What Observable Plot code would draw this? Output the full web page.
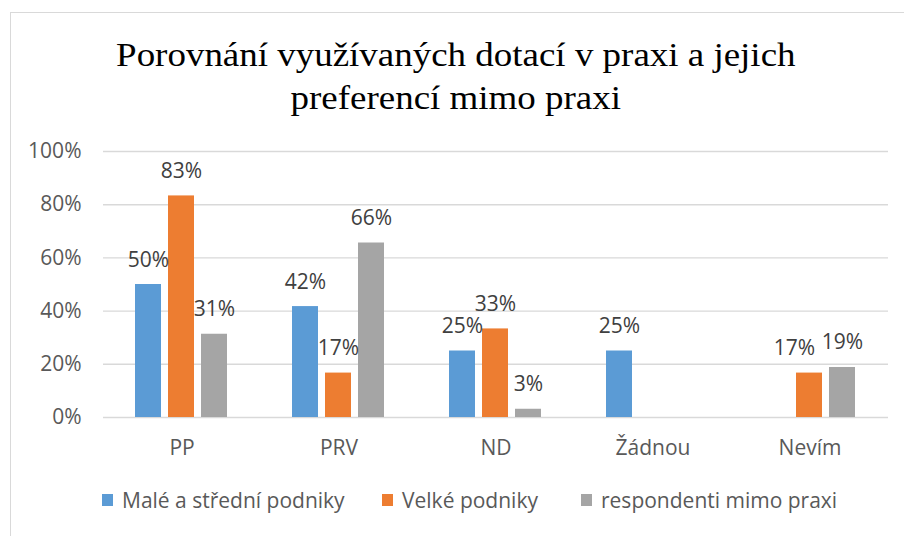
<!DOCTYPE html>
<html><head><meta charset="utf-8">
<script src="https://cdn.jsdelivr.net/npm/d3@7"></script>
<script src="https://cdn.jsdelivr.net/npm/@observablehq/plot@0.6"></script>
<style>
body{margin:0;background:#fff;}
#frame{position:relative;width:904px;height:536px;overflow:hidden;font-family:"Open Sans",sans-serif;background:#fff;}
#border{position:absolute;left:10px;top:12px;width:900px;height:600px;border:1.5px solid #d9d9d9;box-sizing:border-box;}
#title{position:absolute;left:10px;width:894px;top:34px;text-align:center;font-family:"Liberation Serif","Times New Roman",serif;font-size:33px;line-height:43px;color:#000;transform:scaleX(1.12);transform-origin:457px 0;}
#chart{position:absolute;left:0;top:130px;}
.lg{position:absolute;top:486px;font-size:21px;color:#595959;white-space:nowrap;line-height:28px;}
.sw{position:absolute;left:0;top:8px;width:11px;height:12px;}
.lt{position:absolute;left:20px;top:0;}
</style></head>
<body>
<div id="frame">
  <div id="border"></div>
  <div id="title">Porovnání využívaných dotací v praxi a jejich<br>preferencí mimo praxi</div>
  <div id="chart"></div>
  <div id="legend"></div>
</div>
<script>
const categories = ["PP", "PRV", "ND", "Žádnou", "Nevím"];
const series = ["Malé a střední podniky", "Velké podniky", "respondenti mimo praxi"];
const smallMedium = [50, 41.7, 25, 25, null];
const large = [83.3, 16.7, 33.3, null, 16.7];
const outside = [31.3, 65.6, 3.1, null, 18.8];
const colors = ["#5B9BD5", "#ED7D31", "#A5A5A5"];
const yTicks = [0, 20, 40, 60, 80, 100];

const seriesValues = [smallMedium, large, outside];
const data = [];
categories.forEach((c, i) => {
  series.forEach((s, j) => {
    const v = seriesValues[j][i];
    if (v != null) data.push({category: c, series: s, value: v});
  });
});
// the one label that the reference nudges left to avoid its neighbour
const nudged = d => d.category === "Nevím" && d.series === series[1];

const labelOpts = {fx: "category", x: "series", y: "value", text: d => Math.round(d.value) + "%", dy: -18, lineAnchor: "bottom", fill: "#404040", fontSize: 21};

const chart = Plot.plot({
  width: 904,
  height: 340,
  marginTop: 21,
  marginBottom: 53,
  marginLeft: 103,
  marginRight: 16,
  style: {fontFamily: "'Open Sans', sans-serif", fontSize: "21px", color: "#595959", background: "transparent"},
  fx: {domain: categories, paddingInner: 0, paddingOuter: 0, label: null},
  x: {domain: series, paddingInner: 0.2, paddingOuter: 0.91, axis: null},
  y: {domain: [0, 100], label: null},
  color: {domain: series, range: colors},
  marks: [
    Plot.gridY(yTicks, {stroke: "#d9d9d9", strokeOpacity: 1, strokeWidth: 1.4}),
    Plot.axisY(yTicks, {tickSize: 0, tickPadding: 22, tickFormat: d => d + "%", label: null, fill: "#595959"}),
    Plot.axisFx({anchor: "bottom", tickSize: 0, tickPadding: 23, label: null, fill: "#595959"}),
    Plot.barY(data, {fx: "category", x: "series", y: "value", fill: "series"}),
    Plot.text(data.filter(d => !nudged(d)), labelOpts),
    Plot.text(data.filter(nudged), {...labelOpts, dx: -15})
  ]
});
document.getElementById("chart").appendChild(chart);

const legendX = [102, 382, 581];
const legend = document.getElementById("legend");
series.forEach((s, j) => {
  const el = document.createElement("div");
  el.className = "lg";
  el.style.left = legendX[j] + "px";
  el.innerHTML = `<span class="sw" style="background:${colors[j]}"></span><span class="lt">${s}</span>`;
  legend.appendChild(el);
});
</script>
</body></html>
